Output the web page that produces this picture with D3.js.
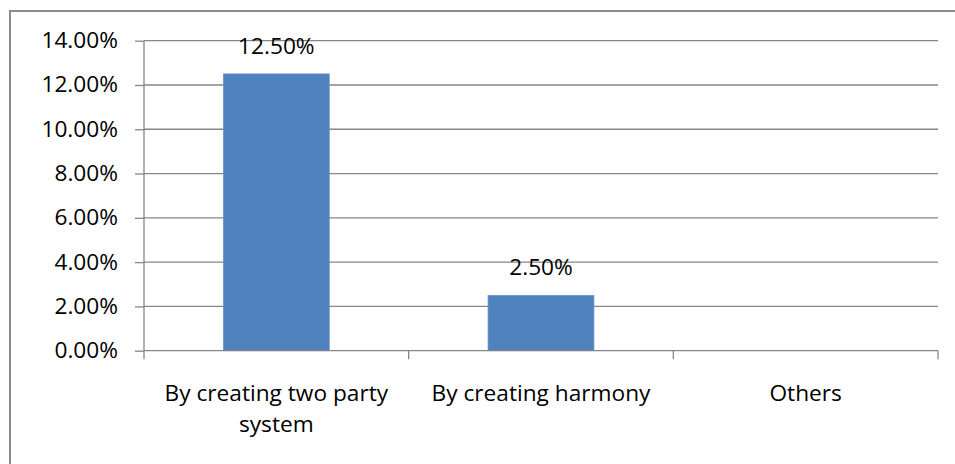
<!DOCTYPE html>
<html>
<head>
<meta charset="utf-8">
<script src="https://cdn.jsdelivr.net/npm/d3@7"></script>
<style>
  html, body { margin: 0; padding: 0; background: #ffffff; }
  svg { display: block; }
  text { font-family: "Open Sans", "Liberation Sans", sans-serif; fill: #000; }
</style>
</head>
<body>
<svg id="chart" width="955" height="464"></svg>
<script>
const categories = ["By creating two party system", "By creating harmony", "Others"];
const values = [0.125, 0.025, null];
const valueLabels = ["12.50%", "2.50%", null];
const yTicks = [0, 0.02, 0.04, 0.06, 0.08, 0.10, 0.12, 0.14];

const W = 955, H = 464;
const margin = { left: 144, right: 17, top: 40.7, bottom: 113.3 };
const plotW = W - margin.left - margin.right;
const plotH = H - margin.top - margin.bottom;
const FONT = 21, SX = 1.08;

const svg = d3.select("#chart");

// chart frame (top and left edges only are visible)
svg.append("path")
  .attr("d", `M10,${H} L10,11 L${W},11`)
  .attr("fill", "none")
  .attr("stroke", "#8c8c8c")
  .attr("stroke-width", 2);

const g = svg.append("g").attr("transform", `translate(${margin.left},${margin.top})`);

const x = d3.scaleBand().domain(categories).range([0, plotW]).padding(0);
const y = d3.scaleLinear().domain([0, 0.14]).range([plotH, 0]);

// horizontal gridlines
g.selectAll(".grid").data(yTicks.filter(d => d > 0)).enter().append("line")
  .attr("x1", 0).attr("x2", plotW)
  .attr("y1", d => y(d)).attr("y2", d => y(d))
  .attr("stroke", "#868686").attr("stroke-width", 1.3);

// bars
const barW = x.bandwidth() * 0.4;
g.selectAll(".bar").data(categories.map((c, i) => ({ c, v: values[i] })).filter(d => d.v != null))
  .enter().append("rect")
  .attr("x", d => x(d.c) + (x.bandwidth() - barW) / 2)
  .attr("y", d => y(d.v))
  .attr("width", barW)
  .attr("height", d => plotH - y(d.v))
  .attr("fill", "#4f81bd")
  .attr("stroke", "#6d95c8").attr("stroke-width", 0.8);

// helper for horizontally stretched text
function label(parent, tx, ty, txt, anchor) {
  return parent.append("text")
    .attr("transform", `translate(${tx},${ty}) scale(${SX},1)`)
    .attr("text-anchor", anchor)
    .attr("font-size", FONT)
    .text(txt);
}

// value labels
categories.forEach((c, i) => {
  if (values[i] == null) return;
  label(g, x(c) + x.bandwidth() / 2, y(values[i]) - 20, valueLabels[i], "middle");
});

// y axis
const yAxis = d3.axisLeft(y).tickValues(yTicks).tickSize(9).tickFormat(d3.format(".2%"));
const ya = g.append("g").call(yAxis);
ya.select(".domain").attr("stroke", "#868686").attr("stroke-width", 1.3).attr("d", `M0,${plotH}V0`);
ya.selectAll(".tick line").attr("stroke", "#868686").attr("stroke-width", 1.3);
ya.selectAll(".tick text").remove();
yTicks.forEach(t => {
  label(g, -26, y(t) + 7.5, d3.format(".2%")(t), "end");
});

// x axis baseline and boundary ticks
g.append("line").attr("x1", 0).attr("x2", plotW).attr("y1", plotH).attr("y2", plotH)
  .attr("stroke", "#868686").attr("stroke-width", 1.3);
const bounds = categories.map(c => x(c)).concat([plotW]);
g.selectAll(".xt").data(bounds).enter().append("line")
  .attr("x1", d => d).attr("x2", d => d)
  .attr("y1", plotH).attr("y2", plotH + 8.5)
  .attr("stroke", "#868686").attr("stroke-width", 1.3);

// category labels, wrapped to the band width
const maxW = x.bandwidth() * 0.9;
const meas = svg.append("text").attr("font-size", FONT).attr("visibility", "hidden");
function measure(s) { meas.text(s); return meas.node().getComputedTextLength() * SX; }
categories.forEach(c => {
  const words = c.split(" ");
  const lines = [];
  let cur = "";
  words.forEach(w => {
    const t = cur ? cur + " " + w : w;
    if (measure(t) > maxW && cur) { lines.push(cur); cur = w; } else cur = t;
  });
  lines.push(cur);
  lines.forEach((ln, k) => {
    label(g, x(c) + x.bandwidth() / 2, plotH + 50 + k * 31, ln, "middle");
  });
});
meas.remove();
</script>
</body>
</html>
